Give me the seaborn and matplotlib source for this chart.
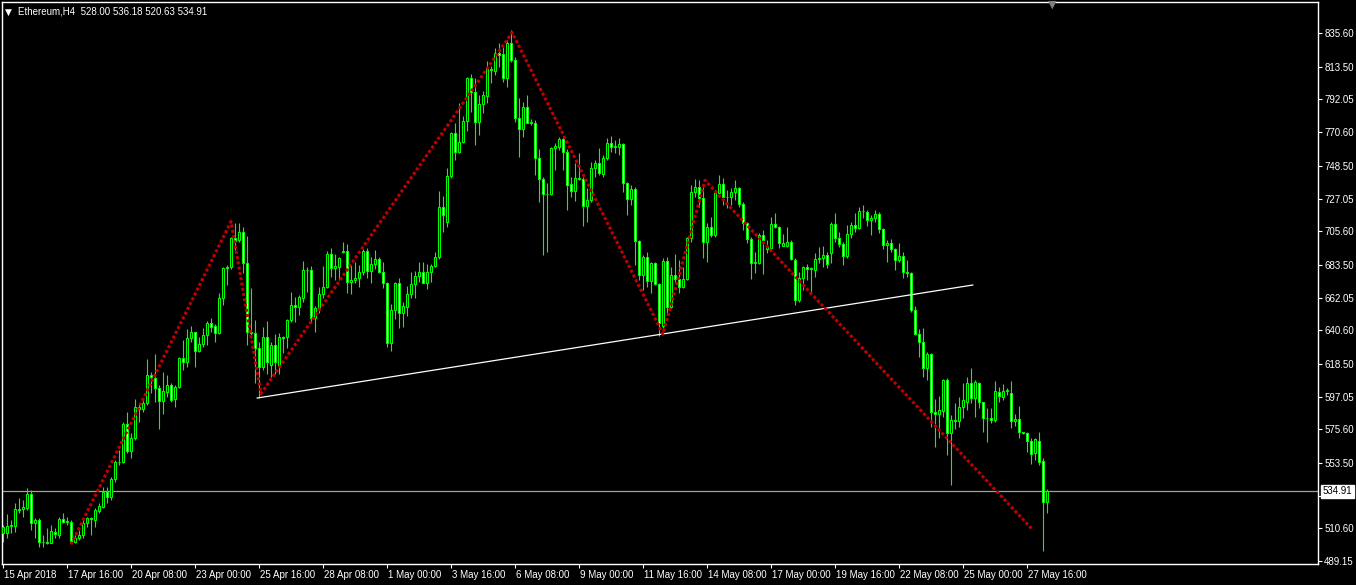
import matplotlib
matplotlib.use('Agg')
import matplotlib.pyplot as plt
import matplotlib.transforms as mtransforms
import seaborn as sns
import numpy as np

# Ethereum H4 candles, 15 Apr 2018 00:00 onwards
opens = [507.4, 507.5, 512.4, 512.0, 523.1, 523.1, 523.8, 533.2, 513.9, 516.1,
         501.9, 501.5, 501.2, 508.5, 506.1, 516.5, 515.0, 515.0, 501.9, 504.1,
         506.3, 514.4, 517.2, 516.1, 522.2, 524.9, 534.7, 531.0, 542.8, 553.9,
         553.9, 578.9, 561.4, 570.1, 590.5, 588.7, 592.7, 611.0, 609.5, 602.5,
         594.4, 600.3, 604.5, 595.3, 603.6, 622.2, 620.0, 635.3, 639.2, 627.2,
         631.4, 637.3, 645.1, 643.4, 638.6, 661.5, 681.2, 681.9, 700.9, 699.8,
         705.3, 685.0, 639.7, 638.6, 628.7, 616.7, 636.0, 618.0, 631.0, 617.0,
         636.4, 636.0, 647.3, 657.2, 655.7, 661.6, 680.0, 680.2, 648.4, 655.0,
         664.4, 669.2, 690.4, 681.3, 682.3, 692.0, 692.6, 672.5, 673.8, 675.0,
         678.6, 692.6, 679.7, 684.1, 687.4, 679.1, 671.4, 632.5, 653.9, 671.4,
         652.2, 656.1, 664.2, 670.8, 676.4, 679.1, 671.8, 679.1, 683.0, 688.5,
         721.3, 711.4, 741.8, 769.8, 757.4, 763.9, 777.9, 805.9, 797.2, 777.1,
         788.9, 794.5, 812.0, 811.0, 822.3, 821.7, 805.9, 829.3, 817.9, 779.7,
         772.5, 786.9, 776.8, 776.4, 753.4, 739.6, 729.8, 729.8, 760.0, 761.1,
         765.9, 757.8, 736.3, 732.2, 740.3, 739.6, 722.4, 726.1, 747.3, 750.1,
         743.2, 753.4, 763.7, 761.1, 761.1, 762.8, 737.4, 726.5, 733.1, 699.4,
         676.9, 688.5, 673.1, 685.0, 671.0, 643.4, 686.3, 655.6, 676.9, 674.0,
         669.2, 674.0, 700.9, 731.5, 734.8, 727.2, 698.7, 708.1, 703.1, 730.9,
         736.6, 727.8, 727.8, 731.1, 733.7, 723.2, 710.8, 700.3, 684.9, 684.9,
         703.1, 694.0, 694.4, 710.1, 708.6, 696.1, 696.1, 698.3, 686.7, 660.4,
         674.7, 681.9, 680.6, 680.1, 687.1, 687.8, 690.0, 691.1, 710.3, 701.3,
         697.2, 689.0, 703.5, 709.7, 707.5, 719.1, 718.4, 713.0, 714.0, 716.9,
         706.8, 696.5, 697.6, 693.7, 686.7, 689.3, 678.6, 678.0, 653.9, 638.1,
         633.1, 615.6, 625.0, 586.7, 585.6, 587.8, 608.0, 573.0, 581.7, 581.3,
         590.0, 593.3, 605.8, 595.9, 605.8, 593.3, 582.8, 582.8, 581.7, 600.3,
         597.1, 600.7, 599.2, 581.3, 582.1, 573.6, 573.0, 568.2, 559.8, 568.2,
         554.8, 528.00]
highs = [512.8, 520.0, 516.1, 527.0, 530.3, 529.2, 536.9, 535.8, 517.2, 517.2,
         506.3, 510.6, 512.8, 510.6, 518.3, 520.9, 517.9, 516.1, 506.3, 509.5,
         517.2, 518.3, 518.3, 523.8, 527.0, 538.0, 538.0, 544.5, 555.5, 562.0,
         580.6, 587.2, 573.0, 595.3, 592.7, 596.0, 621.7, 613.4, 625.0, 604.7,
         613.0, 611.2, 605.8, 604.7, 623.3, 634.2, 641.4, 643.4, 639.7, 636.4,
         641.9, 646.7, 648.9, 644.5, 664.8, 682.3, 683.4, 702.0, 711.2, 710.8,
         708.1, 702.4, 668.1, 647.3, 633.1, 642.5, 646.7, 633.0, 638.0, 638.7,
         636.8, 648.0, 665.5, 662.2, 663.8, 686.1, 682.3, 682.8, 656.5, 669.2,
         682.8, 692.6, 694.4, 690.4, 688.9, 698.3, 697.2, 683.4, 685.2, 683.4,
         693.7, 694.8, 688.5, 693.3, 688.9, 685.2, 672.5, 657.6, 672.5, 675.1,
         659.4, 669.7, 679.1, 679.5, 685.6, 685.6, 684.1, 684.1, 691.7, 732.0,
         728.7, 747.1, 770.5, 776.8, 789.5, 781.2, 807.0, 808.8, 805.9, 795.0,
         797.8, 817.3, 814.0, 826.0, 829.3, 826.3, 831.1, 837.6, 819.7, 792.8,
         790.6, 795.0, 779.0, 778.6, 759.3, 740.9, 737.0, 761.1, 763.2, 767.6,
         767.6, 759.3, 741.4, 750.6, 756.7, 741.4, 733.7, 751.2, 752.3, 760.0,
         755.6, 766.5, 768.1, 765.4, 766.5, 763.2, 738.1, 735.9, 734.8, 699.8,
         690.0, 692.2, 685.6, 685.6, 671.4, 687.8, 688.5, 682.3, 690.6, 686.7,
         682.3, 702.0, 735.9, 739.6, 739.2, 734.8, 710.8, 715.1, 732.6, 742.5,
         740.3, 732.6, 733.7, 739.2, 734.8, 725.0, 711.9, 702.0, 692.2, 704.2,
         706.4, 699.8, 714.7, 717.8, 709.0, 703.8, 708.1, 699.8, 687.8, 679.0,
         682.8, 684.1, 682.3, 691.1, 695.0, 695.9, 692.2, 711.9, 717.8, 705.3,
         698.7, 709.7, 711.9, 717.8, 721.3, 722.8, 719.5, 716.2, 719.5, 718.4,
         707.5, 699.8, 700.3, 694.4, 697.6, 692.2, 686.7, 679.0, 656.5, 641.2,
         641.9, 626.5, 625.9, 595.3, 597.4, 608.4, 609.0, 585.0, 592.6, 597.0,
         605.8, 610.2, 616.0, 608.0, 606.9, 593.7, 589.4, 589.4, 607.3, 603.6,
         605.3, 602.5, 607.3, 585.6, 590.9, 574.0, 573.6, 569.7, 569.7, 574.0,
         556.6, 536.18]
lows = [501.9, 504.1, 507.4, 508.5, 520.5, 517.9, 522.7, 509.5, 504.1, 498.6,
        498.6, 500.1, 500.8, 504.1, 504.1, 513.9, 512.8, 500.8, 501.2, 503.0,
        504.1, 511.7, 506.3, 511.7, 520.5, 523.8, 527.0, 529.2, 541.3, 552.2,
        553.3, 559.8, 557.0, 568.6, 580.6, 587.2, 591.6, 599.7, 593.7, 575.6,
        585.4, 597.0, 593.7, 590.5, 602.5, 614.5, 616.7, 633.1, 616.7, 626.5,
        629.8, 630.9, 639.7, 632.7, 638.1, 657.2, 670.3, 680.6, 693.3, 698.7,
        677.9, 630.9, 635.3, 605.8, 595.9, 614.5, 612.0, 610.0, 612.0, 612.0,
        625.5, 628.8, 646.0, 646.0, 650.6, 659.4, 666.0, 645.2, 639.7, 651.7,
        661.6, 668.1, 675.8, 673.6, 673.6, 691.1, 664.8, 664.4, 671.4, 669.2,
        676.9, 675.1, 671.8, 680.8, 678.0, 668.1, 629.9, 627.0, 648.0, 641.9,
        642.5, 650.2, 661.6, 662.0, 672.5, 671.4, 667.7, 672.0, 681.9, 687.4,
        705.3, 708.2, 740.3, 752.3, 756.7, 763.3, 771.4, 784.0, 762.2, 768.7,
        782.9, 789.5, 802.6, 808.1, 813.6, 803.7, 800.5, 816.9, 777.5, 754.5,
        767.6, 776.4, 775.0, 742.5, 725.0, 690.0, 692.2, 729.4, 745.8, 758.9,
        745.8, 719.5, 728.3, 725.4, 739.2, 709.0, 711.9, 725.0, 741.4, 742.5,
        741.4, 752.3, 757.8, 756.7, 755.6, 731.5, 716.2, 722.8, 683.4, 673.6,
        667.0, 669.2, 664.8, 670.3, 636.8, 640.3, 650.6, 655.0, 672.5, 664.8,
        668.1, 673.6, 698.7, 728.3, 721.7, 688.2, 685.6, 702.0, 702.0, 728.3,
        722.8, 720.6, 722.8, 726.1, 721.7, 706.4, 697.6, 674.0, 677.9, 684.1,
        677.5, 691.1, 693.3, 707.5, 694.4, 695.9, 695.5, 686.7, 657.2, 659.4,
        667.0, 673.6, 665.9, 675.8, 684.9, 682.3, 681.2, 684.5, 698.7, 695.4,
        683.4, 687.8, 700.9, 705.3, 706.8, 714.0, 709.0, 703.1, 711.9, 704.2,
        693.7, 685.6, 692.2, 680.1, 685.6, 674.7, 675.8, 652.8, 637.5, 623.3,
        610.1, 607.9, 577.3, 563.8, 569.7, 583.9, 558.7, 539.0, 575.6, 576.9,
        582.8, 588.3, 592.6, 583.9, 589.4, 574.0, 567.5, 579.5, 580.6, 593.7,
        594.8, 598.3, 576.2, 577.8, 569.7, 572.5, 560.9, 552.8, 555.5, 552.2,
        496.0, 520.63]
closes = [511.7, 512.4, 512.8, 523.1, 522.7, 524.4, 533.2, 513.9, 516.1, 501.9,
          501.5, 501.2, 509.1, 506.7, 516.5, 515.0, 515.7, 501.9, 504.5, 506.3,
          514.4, 517.2, 517.0, 522.7, 525.3, 534.7, 531.0, 542.8, 553.9, 554.3,
          578.9, 561.4, 570.1, 590.5, 589.0, 592.7, 611.0, 610.0, 602.5, 594.4,
          600.7, 604.5, 594.8, 603.6, 622.2, 620.0, 635.3, 639.2, 627.2, 631.4,
          637.3, 645.1, 643.0, 638.6, 661.5, 681.2, 681.9, 700.9, 699.4, 705.3,
          685.0, 639.7, 638.6, 628.7, 616.7, 636.0, 620.0, 631.0, 620.0, 636.4,
          635.5, 647.3, 657.2, 655.7, 662.2, 680.2, 680.2, 648.4, 655.0, 664.4,
          669.2, 690.4, 681.3, 683.0, 687.8, 692.6, 672.5, 673.8, 675.2, 678.6,
          692.6, 679.7, 684.1, 687.4, 679.1, 671.8, 632.5, 653.9, 671.4, 652.2,
          656.7, 664.2, 670.8, 676.4, 679.1, 671.8, 679.1, 683.0, 688.5, 721.3,
          716.2, 741.8, 769.8, 757.4, 763.9, 777.9, 805.9, 797.2, 777.1, 788.9,
          795.0, 812.0, 811.4, 822.3, 821.2, 805.9, 829.3, 817.9, 779.7, 772.5,
          786.9, 776.8, 777.5, 753.4, 739.6, 729.8, 730.2, 760.0, 761.5, 765.9,
          757.8, 735.9, 732.2, 740.3, 740.1, 722.4, 726.1, 747.3, 750.1, 743.6,
          753.4, 763.7, 761.1, 761.3, 762.8, 737.4, 726.5, 733.1, 699.4, 676.9,
          688.5, 673.1, 685.0, 671.0, 645.1, 686.3, 656.1, 676.9, 674.0, 669.2,
          674.0, 700.9, 731.5, 734.8, 727.2, 698.7, 708.1, 703.1, 730.9, 736.6,
          727.8, 728.0, 731.1, 733.7, 723.2, 710.8, 700.3, 684.9, 685.1, 703.1,
          699.8, 695.0, 710.1, 708.6, 697.6, 697.6, 698.3, 687.1, 660.4, 674.7,
          681.9, 680.6, 681.2, 687.1, 688.2, 690.0, 684.1, 710.3, 701.3, 697.2,
          689.5, 703.5, 709.7, 707.5, 719.1, 718.6, 713.0, 714.0, 716.9, 706.8,
          696.5, 697.6, 693.7, 686.7, 689.3, 678.6, 678.0, 653.9, 638.1, 633.1,
          615.6, 625.0, 586.7, 585.6, 588.3, 608.0, 573.0, 581.7, 581.3, 590.0,
          594.8, 605.8, 595.9, 606.4, 593.3, 582.8, 583.0, 581.7, 600.7, 597.7,
          600.7, 601.4, 581.3, 582.4, 573.6, 573.4, 568.2, 559.4, 569.0, 554.4,
          528.1, 534.91]

# hand-drawn objects (bar index, price)
zigzag_x = [17, 57, 64.5, 127.3, 165, 175.5, 257.3]
zigzag_y = [500.0, 712.0, 599.0, 836.0, 638.0, 739.0, 510.0]
trend_x = [63.5, 242.5]
trend_y = [596.1, 670.3]
last_price = 534.91

x_ticks = list(range(0, 257, 16))
x_labels = ['15 Apr 2018', '17 Apr 16:00', '20 Apr 08:00', '23 Apr 00:00', '25 Apr 16:00',
            '28 Apr 08:00', '1 May 00:00', '3 May 16:00', '6 May 08:00', '9 May 00:00',
            '11 May 16:00', '14 May 08:00', '17 May 00:00', '19 May 16:00', '22 May 08:00',
            '25 May 00:00', '27 May 16:00']
y_ticks = [835.60, 813.50, 792.05, 770.60, 748.50, 727.05, 705.60, 683.50, 662.05,
           640.60, 618.50, 597.05, 575.60, 553.50, 532.05, 510.60, 489.15]

sns.set_theme(style='dark', rc={'axes.facecolor': 'black', 'figure.facecolor': 'black',
                                'axes.edgecolor': 'white', 'axes.grid': False})
plt.rcParams['font.family'] = ['Liberation Sans', 'DejaVu Sans']

fig = plt.figure(figsize=(13.56, 5.85), dpi=100)
ax = fig.add_axes([2/1356, 21/585, 1316/1356, 562/585])

o = np.array(opens); h = np.array(highs); l = np.array(lows); c = np.array(closes)
idx = np.arange(len(o))
bull = c >= o
lime = '#00ff00'

# wicks
ax.vlines(idx, l, h, color=lime, linewidth=0.8, zorder=2)
# bodies: up candles hollow (black), down candles white
body_low = np.minimum(o, c)
body_h = np.maximum(np.abs(c - o), 0.15)
ax.bar(idx[bull], body_h[bull], bottom=body_low[bull], width=0.5,
       color='black', edgecolor=lime, linewidth=0.75, zorder=3)
ax.bar(idx[~bull], body_h[~bull], bottom=body_low[~bull], width=0.5,
       color='white', edgecolor=lime, linewidth=0.75, zorder=3)

# current price line
ax.axhline(last_price, color='#a0a0a0', linewidth=0.9, zorder=1)

# trend line and zigzag
sns.lineplot(x=trend_x, y=trend_y, sort=False, ax=ax, color='white', linewidth=0.9, zorder=4)
sns.lineplot(x=zigzag_x, y=zigzag_y, sort=False, ax=ax, color='#c00000', linewidth=2.2,
             linestyle=(0, (1.0, 0.75)), zorder=5)

ax.set_xlim(-0.25, 328.75)
ax.set_ylim(487.2, 856.0)

for s in ax.spines.values():
    s.set_color('white')
    s.set_linewidth(1)

# price scale; the label under the price tag is hidden, as on the chart
ax.yaxis.tick_right()
ax.set_yticks(y_ticks)
ax.set_yticklabels(['' if abs(v - last_price) < 5 else '%.2f' % v for v in y_ticks])
ax.tick_params(axis='y', right=True, left=False, length=3, width=0.8, color='white',
               labelcolor='white', labelsize=7, pad=1.5, direction='out')

ax.set_xticks(x_ticks)
ax.set_xticklabels(x_labels)
ax.tick_params(axis='x', bottom=True, length=3, width=0.8, color='white',
               labelcolor='white', labelsize=7, pad=1.5, direction='out')
offset = mtransforms.ScaledTranslation(1/100, 0, fig.dpi_scale_trans)
for lab in ax.get_xticklabels():
    lab.set_horizontalalignment('left')
    lab.set_transform(lab.get_transform() + offset)
ax.set_xlabel('')
ax.set_ylabel('')

# last price tag on the price scale
ax.text(1.0035, last_price, '%.2f' % last_price, transform=ax.get_yaxis_transform(),
        ha='left', va='center', fontsize=7, color='black', zorder=10, clip_on=False,
        bbox=dict(boxstyle='square,pad=0.15', facecolor='white', edgecolor='white'))

# chart header
fig.text(5/1356, 1 - 12/585, '\u25bc', color='white', fontsize=6.5, va='center', ha='left',
         family=['DejaVu Sans'])
fig.text(18/1356, 1 - 12/585, 'Ethereum,H4  528.00 536.18 520.63 534.91', color='white',
         fontsize=7, va='center', ha='left')
# shift marker at the top
fig.text(1052/1356, 1 - 5/585, '\u25bc', color='#808080', fontsize=8, va='center', ha='center',
         family=['DejaVu Sans'])

fig.savefig('out.png', dpi=100, facecolor='black')
